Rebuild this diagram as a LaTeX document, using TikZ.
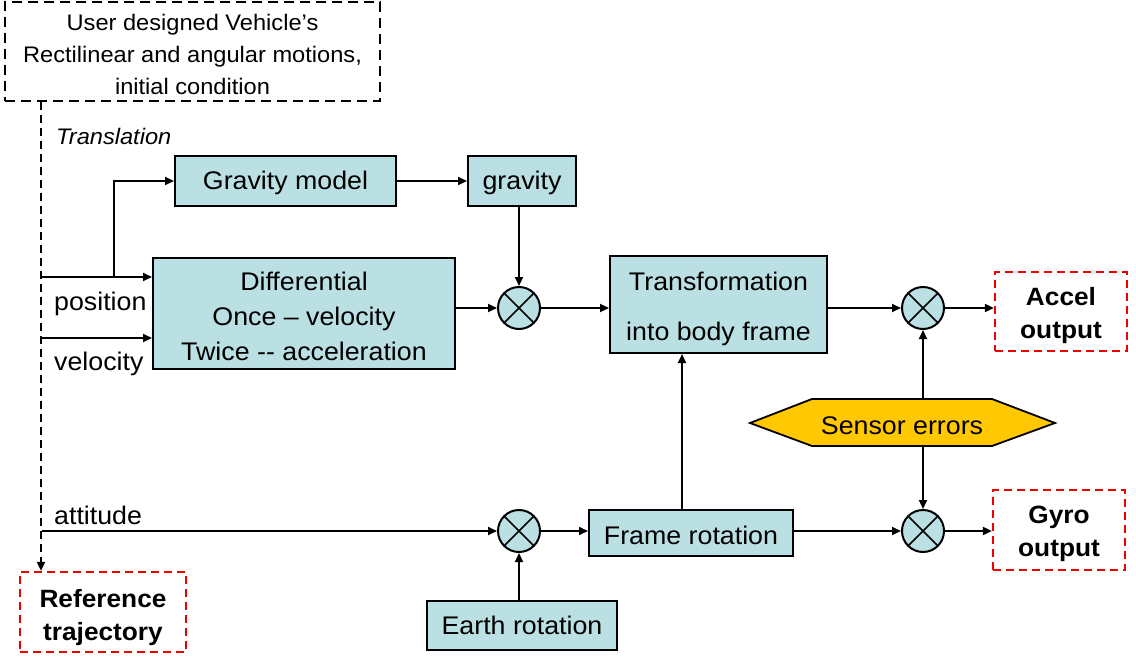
\documentclass[tikz,border=0pt]{standalone}
\usepackage{fontspec}
\setmainfont{Liberation Sans}[FakeStretch=1.05]
\usetikzlibrary{arrows.meta,calc}
\definecolor{boxblue}{RGB}{187,224,228}
\definecolor{errgold}{RGB}{255,200,0}
\definecolor{outred}{RGB}{240,0,0}
% tall strut opening a first line, to sit the text a little lower in its box
\newcommand\lowby[1]{\rule{0pt}{#1}}
\tikzset{
  drop/.style={execute at begin node={\rule{0pt}{#1}}},
  blk/.style={draw=black, line width=2pt, fill=boxblue, inner sep=0pt, align=center,
              font=\fontsize{25.5}{32}\selectfont},
  outbox/.style={draw=outred, line width=2.2pt, dash pattern=on 8pt off 5pt, inner sep=0pt,
              align=center, font=\fontsize{25}{33}\selectfont\bfseries},
  mult/.style={circle, draw=black, line width=2pt, fill=boxblue, minimum size=42pt, inner sep=0pt,
              path picture={\draw[line width=1.6pt]
                 (path picture bounding box.north west) -- (path picture bounding box.south east)
                 (path picture bounding box.north east) -- (path picture bounding box.south west);}},
  lbl/.style={anchor=west, inner sep=0pt, font=\fontsize{25.5}{28}\selectfont},
  conn/.style={line width=1.8pt, -{Triangle[length=9pt,width=8pt]}},
}
\begin{document}
\begin{tikzpicture}[x=1pt, y=-1pt]
\useasboundingbox (0,0) rectangle (1136,658);

% source of the vehicle motion
\node[draw=black, line width=2pt, dash pattern=on 10pt off 6pt, minimum width=375pt, minimum height=99pt,
      inner sep=0pt, align=center, font=\fontsize{22.5}{32}\selectfont] (top) at (192.5,51.5)
  {\lowby{22.4pt}User designed Vehicle’s\\Rectilinear and angular motions,\\initial condition};
\node[outbox, minimum width=166pt, minimum height=80pt] (ref) at (103,612) {\lowby{29pt}Reference\\trajectory};

% translation chain
\node[blk, minimum width=221pt, minimum height=50pt, drop=22.6pt] (gmod) at (285.5,181) {Gravity model};
\node[blk, minimum width=108pt, minimum height=50pt, drop=22.4pt] (grav) at (522,181) {gravity};
\node[blk, minimum width=302pt, minimum height=111pt, font=\fontsize{25.5}{35}\selectfont] (diff) at (304,313)
  {\lowby{24.5pt}Differential\\Once – velocity\\Twice -{}- acceleration};
\node[mult] (m1) at (519,308) {};
\node[blk, minimum width=217pt, minimum height=97pt, font=\fontsize{25.5}{50}\selectfont] (trans) at (718.5,304.5)
  {\lowby{27pt}Transformation\\into body frame};
\node[mult] (m2) at (923,308) {};
\node[outbox, minimum width=132pt, minimum height=79pt] (accel) at (1061,311.5) {\lowby{27pt}Accel\\output};

% sensor errors
\path[draw=black, line width=1.8pt, fill=errgold]
  (750,423) -- (812,399) -- (992,399) -- (1055,423) -- (992,446) -- (812,446) -- cycle;
\node[minimum height=47pt, minimum width=180pt, inner sep=0pt, font=\fontsize{25.5}{28}\selectfont, drop=22.4pt] (sens) at (902,423) {Sensor errors};

% rotation chain
\node[mult] (m4) at (519,531) {};
\node[blk, minimum width=204pt, minimum height=46pt, drop=22.6pt] (frame) at (691,533) {Frame rotation};
\node[mult] (m3) at (923,531) {};
\node[outbox, minimum width=132pt, minimum height=80pt] (gyro) at (1059,530) {\lowby{25pt}Gyro\\output};
\node[blk, minimum width=190pt, minimum height=49pt] (earth) at (522,625.5) {Earth rotation};

% tap points on the reference line
\coordinate (tapT) at ($(top.south west)+(37,0)$);
\coordinate (tapP) at (42,277);
\coordinate (tapV) at (42,338);
\coordinate (tapA) at (42,531);
\coordinate (split) at (114,277);
\coordinate (fup) at ($(frame.north)+(-9,0)$);

\draw[line width=1.8pt, dash pattern=on 8pt off 5pt, -{Triangle[length=9pt,width=8pt]}]
  (tapT) -- (tapT |- ref.north);

% labels
\node[lbl, font=\fontsize{22.5}{26}\selectfont\itshape] (ltr) at (56,136) {Translation};
\node[lbl] (lpos) at (54,304) {position};
\node[lbl] (lvel) at (54,364) {velocity};
\node[lbl] (latt) at (54,515) {attitude};

% connectors
\draw[conn] (tapP) -- (tapP -| diff.west);
\draw[conn] (split) |- (gmod.west);
\draw[conn] (tapV) -- (tapV -| diff.west);
\draw[conn] (gmod.east) -- (grav.west);
\draw[conn] (grav.south -| m1) -- (m1.north);
\draw[conn] (diff.east |- m1) -- (m1.west);
\draw[conn] (m1.east) -- (m1 -| trans.west);
\draw[conn] (trans.east |- m2) -- (m2.west);
\draw[conn] (m2.east) -- (m2 -| accel.west);
\draw[conn] (sens.north -| m2) -- (m2.south);
\draw[conn] (sens.south -| m3) -- (m3.north);
\draw[conn] (tapA) -- (m4.west);
\draw[conn] (earth.north -| m4) -- (m4.south);
\draw[conn] (m4.east) -- (m4 -| frame.west);
\draw[conn] (frame.east |- m3) -- (m3.west);
\draw[conn] (m3.east) -- (m3 -| gyro.west);
\draw[conn] (fup) -- (fup |- trans.south);
\end{tikzpicture}
\end{document}
